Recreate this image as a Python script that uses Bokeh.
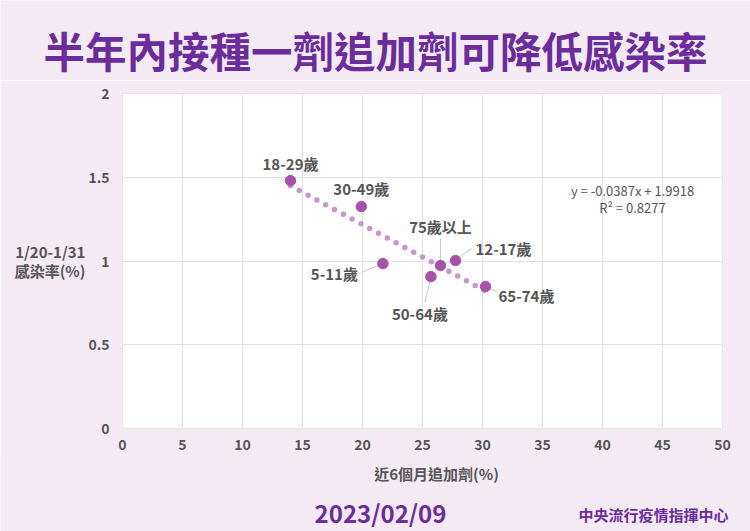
from bokeh.plotting import figure
from bokeh.layouts import column
from bokeh.models import Label, Range1d, FixedTicker, ColumnDataSource
from bokeh.core.properties import value
from bokeh.embed import file_html
from bokeh.resources import INLINE

# ---- data ----
groups = ["18-29歲", "30-49歲", "5-11歲", "50-64歲", "75歲以上", "12-17歲", "65-74歲"]
booster = [14.0, 19.9, 21.7, 25.7, 26.5, 27.75, 30.25]
rate = [1.48, 1.325, 0.985, 0.907, 0.973, 1.003, 0.848]
slope = -0.0387
intercept = 1.9918
r2 = 0.8277
x_ticks = [0, 5, 10, 15, 20, 25, 30, 35, 40, 45, 50]
y_ticks = [0, 0.5, 1, 1.5, 2]

title_text = "半年內接種一劑追加劑可降低感染率"
x_title = "近6個月追加劑(%)"
y_title = "1/20-1/31\n感染率(%)"
date_text = "2023/02/09"
source_text = "中央流行疫情指揮中心"

# ---- style ----
FONT = "Noto Sans CJK TC"
BG = "#f4eaf4"
PURPLE = "#6b2c9c"
GREY = "#555555"
W = 750
HEAD_H, MAIN_H, FOOT_H = 80, 378, 74
ML, MR, MT, MB = 122, 28, 13, 30
FW, FH = W - ML - MR, MAIN_H - MT - MB
PXX = FW / 50.0
PXY = FH / 2.0

lab_dx = [0, 0, -25, -11, 0, 20, 13]
lab_dy = [17, 18, -10, -37, 39, 12, -9]
lab_align = ["center", "center", "right", "center", "center", "left", "left"]
lead = {2: (-4, -2, -22, -9), 3: (-1, -5, -6, -26), 4: (0, 5, 0, 27),
        5: (4, 4, 16, 12), 6: (4, -2, 11, -5)}


def no_align(f):
    if "frame_align" in f.properties():
        f.frame_align = False


def blank(h):
    f = figure(width=W, height=h, output_backend="svg", toolbar_location=None,
               x_range=Range1d(0, W), y_range=Range1d(0, h),
               x_axis_location=None, y_axis_location=None, min_border=0)
    f.grid.visible = False
    f.outline_line_color = None
    f.background_fill_color = BG
    f.border_fill_color = BG
    no_align(f)
    return f


# header with the title
head = blank(HEAD_H)
head.text(x=[W / 2], y=[HEAD_H - 49], text=[title_text], text_align="center",
          text_baseline="middle", text_font=value(FONT), text_font_style="bold",
          text_font_size="41.5px", text_color=PURPLE)

# main chart
p = figure(width=W, height=MAIN_H, output_backend="svg", toolbar_location=None,
           x_range=Range1d(0, 50), y_range=Range1d(0, 2),
           min_border_left=ML, min_border_right=MR, min_border_top=MT, min_border_bottom=MB)
no_align(p)
p.border_fill_color = BG
p.background_fill_color = "white"
p.outline_line_color = "#e2e2e2"

for ax in (p.xaxis[0], p.yaxis[0]):
    ax.axis_line_color = None
    ax.major_tick_line_color = None
    ax.minor_tick_line_color = None
    ax.major_label_text_font = FONT
    ax.major_label_text_font_style = "bold"
    ax.major_label_text_font_size = "14px"
    ax.major_label_text_color = GREY
p.xaxis[0].ticker = FixedTicker(ticks=x_ticks)
p.yaxis[0].ticker = FixedTicker(ticks=y_ticks)
p.xaxis[0].major_label_standoff = 4
p.yaxis[0].major_label_standoff = 7
p.yaxis[0].axis_label = y_title
p.yaxis[0].axis_label_orientation = "horizontal"
p.yaxis[0].axis_label_standoff = 0
p.yaxis[0].axis_label_text_font = FONT
p.yaxis[0].axis_label_text_font_style = "bold"
p.yaxis[0].axis_label_text_font_size = "15px"
p.yaxis[0].axis_label_text_color = GREY
p.yaxis[0].axis_label_text_line_height = 0.9
p.xgrid[0].ticker = FixedTicker(ticks=x_ticks)
p.ygrid[0].ticker = FixedTicker(ticks=y_ticks)
p.xgrid.grid_line_color = "#e2e2e2"
p.ygrid.grid_line_color = "#e2e2e2"

# trend line from regression equation over data range
tx = [min(booster), max(booster)]
ty = [slope * v + intercept for v in tx]
p.line(tx, ty, line_color="#c995cb", line_width=5.5, line_dash="0 10", line_cap="round")

x0s, y0s, x1s, y1s = [], [], [], []
for i, (a, b, c, d) in lead.items():
    x0s.append(booster[i] + a / PXX); y0s.append(rate[i] + b / PXY)
    x1s.append(booster[i] + c / PXX); y1s.append(rate[i] + d / PXY)
p.segment(x0s, y0s, x1s, y1s, line_color="#c8c8c8", line_width=1)

p.scatter(booster, rate, size=10.5, fill_color="#a652a8", line_color="#a652a8")

src = ColumnDataSource(dict(x=booster, y=rate, t=groups, xo=lab_dx,
                            yo=[-v for v in lab_dy], al=lab_align))
p.text(x="x", y="y", text="t", x_offset="xo", y_offset="yo", text_align="al",
       text_baseline="middle", source=src, text_font=value(FONT),
       text_font_style="bold", text_font_size="15px", text_color=GREY)

p.add_layout(Label(x=42.5, y=1.421, text="y = -0.0387x + 1.9918", text_align="center",
                   text_baseline="middle", text_font=FONT, text_font_size="13px",
                   text_color=GREY))
p.add_layout(Label(x=42.5, y=1.319, text="R² = " + str(r2), text_align="center",
                   text_baseline="middle", text_font=FONT, text_font_size="13px",
                   text_color=GREY))

# footer: x-axis title, date, source
foot = blank(FOOT_H)
if "styles" in foot.properties():
    foot.styles = {"margin-top": "-1px"}
foot.text(x=[436], y=[58], text=[x_title], text_align="center",
          text_baseline="middle", text_font=value(FONT), text_font_style="bold",
          text_font_size="15px", text_color=GREY)
foot.text(x=[380], y=[19], text=[date_text], text_align="center",
          text_baseline="middle", text_font=value(FONT), text_font_style="bold",
          text_font_size="24px", text_color=PURPLE)
foot.text(x=[653], y=[17], text=[source_text], text_align="center",
          text_baseline="middle", text_font=value(FONT), text_font_style="bold",
          text_font_size="15px", text_color=PURPLE)

page = column(head, p, foot, spacing=0)
open("out.html", "w").write(file_html(page, INLINE))
